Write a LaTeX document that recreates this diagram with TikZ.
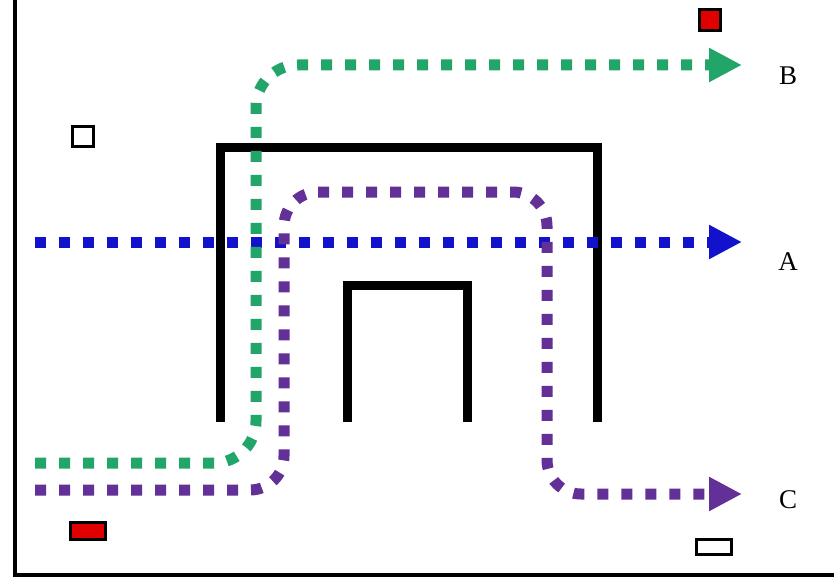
\documentclass[tikz,border=0pt]{standalone}
\usepackage{fontspec}
\setmainfont{Liberation Serif}
\usetikzlibrary{arrows.meta}
\definecolor{pgreen}{RGB}{34,165,105}
\definecolor{pblue}{RGB}{18,18,205}
\definecolor{ppurple}{RGB}{98,48,150}
\definecolor{pred}{RGB}{225,0,0}
\begin{document}
\begin{tikzpicture}[x=1pt,y=-1pt,
  wall/.style={line width=9pt,line cap=butt,line join=miter},
  dotline/.style={line width=11pt,dash pattern=on 11pt off 13pt,
    -{Triangle[length=33pt,width=32pt]}},
  lbl/.style={font=\fontsize{27}{30}\selectfont,inner sep=0pt},
  box/.style={draw=black,line width=3pt,inner sep=0pt}]
\useasboundingbox (0,0) rectangle (834,588);
\fill[white] (0,0) rectangle (834,588);
% frame
\coordinate (ftop) at (15,0);
\coordinate (fcorner) at (15,575);
\coordinate (fright) at (834,575);
\draw[line width=3.5pt] (ftop) -- (fcorner) -- (fright);
% structure
\coordinate (o1) at (220,422); \coordinate (o2) at (220,148);
\coordinate (o3) at (597,148); \coordinate (o4) at (597,422);
\draw[wall] (o1) -- (o2) -- (o3) -- (o4);
\coordinate (i1) at (347,422); \coordinate (i2) at (347,285);
\coordinate (i3) at (467,285); \coordinate (i4) at (467,422);
\draw[wall] (i1) -- (i2) -- (i3) -- (i4);
% markers
\node[box,minimum width=21pt,minimum height=20pt] (sq1) at (83,137) {};
\node[box,fill=pred,minimum width=21pt,minimum height=21pt] (sq2) at (710,20) {};
\node[box,fill=pred,minimum width=35pt,minimum height=17pt] (sq3) at (88,531) {};
\node[box,minimum width=35pt,minimum height=15pt] (sq4) at (714,547) {};
% paths
\coordinate (bs) at (35,242); \coordinate (be) at (742,242);
\draw[dotline,pblue] (bs) -- (be);
\coordinate (gs) at (35,463); \coordinate (gc1) at (256,463);
\coordinate (gc2) at (256,65); \coordinate (ge) at (742,65);
\draw[dotline,pgreen,rounded corners=42pt] (gs) -- (gc1) -- (gc2) -- (ge);
\coordinate (ps) at (35,490); \coordinate (pc1) at (284,490);
\coordinate (pc2) at (284,192); \coordinate (pc3) at (547,192);
\coordinate (pc4) at (547,494); \coordinate (pe) at (742,494);
\draw[dotline,ppurple,rounded corners=34pt] (ps) -- (pc1) -- (pc2) -- (pc3) -- (pc4) -- (pe);
% labels
\node[lbl] (lB) at (788,76) {B};
\node[lbl] (lA) at (788,262) {A};
\node[lbl] (lC) at (788,500) {C};
\end{tikzpicture}
\end{document}
